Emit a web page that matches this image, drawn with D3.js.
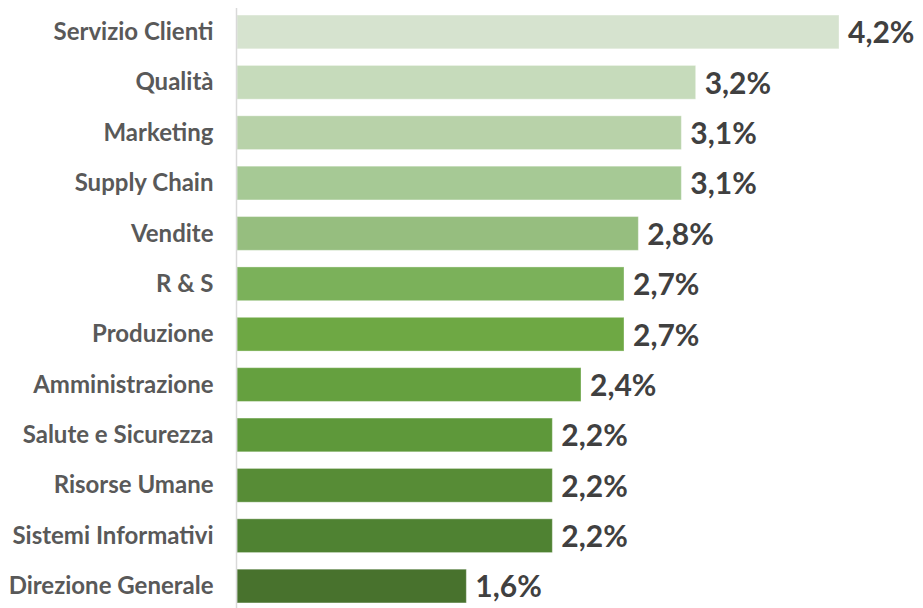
<!DOCTYPE html>
<html>
<head>
<meta charset="utf-8">
<script src="https://cdn.jsdelivr.net/npm/d3@7"></script>
<style>
  html, body { margin: 0; padding: 0; background: #ffffff; }
  svg { display: block; }
</style>
</head>
<body>
<svg id="chart" width="923" height="608"></svg>
<script>
// Departments, top to bottom
const categories = [
  "Servizio Clienti", "Qualità", "Marketing", "Supply Chain", "Vendite", "R & S",
  "Produzione", "Amministrazione", "Salute e Sicurezza", "Risorse Umane",
  "Sistemi Informativi", "Direzione Generale"
];
// Percentage per department
const values = [4.2, 3.2, 3.1, 3.1, 2.8, 2.7, 2.7, 2.4, 2.2, 2.2, 2.2, 1.6];
// Green ramp, light to dark
const colors = [
  "#d6e3cf", "#c6dbbb", "#b8d2a9", "#a6c995", "#96be7f", "#7bb15a",
  "#6ea844", "#65a03f", "#5e983a", "#578c36", "#4f8232", "#48722d"
];

const width = 923, height = 608;
const margin = { top: 7, right: 84, bottom: 0, left: 237 };

const svg = d3.select("#chart");

const x = d3.scaleLinear()
  .domain([0, 4.2])
  .range([margin.left, width - margin.right]);

const y = d3.scaleBand()
  .domain(categories)
  .range([margin.top, height + 3])
  .paddingInner(0.33)
  .paddingOuter(0.16);

const fmt = v => d3.format(".1f")(v).replace(".", ",") + "%";

// Bars
svg.append("g")
  .selectAll("rect")
  .data(categories)
  .join("rect")
  .attr("x", x(0))
  .attr("y", d => y(d))
  .attr("width", (d, i) => x(values[i]) - x(0))
  .attr("height", y.bandwidth())
  .attr("fill", (d, i) => colors[i])
  .attr("stroke", "rgba(255,255,255,0.35)")
  .attr("stroke-width", 1);

// Category axis
const yAxis = d3.axisLeft(y).tickSize(0).tickPadding(23);
const gy = svg.append("g")
  .attr("transform", `translate(${margin.left - 0.5},0)`)
  .call(yAxis);
gy.select(".domain")
  .attr("d", `M0,8V${height}`)
  .attr("stroke", "#d9d9d9")
  .attr("stroke-width", 1.5);
gy.selectAll("text")
  .attr("fill", "#595959")
  .attr("dy", "0.34em")
  .style("font-family", "Lato, 'Open Sans', sans-serif")
  .style("font-weight", "700")
  .style("font-size", "24px");

// Value labels
svg.append("g")
  .selectAll("text")
  .data(categories)
  .join("text")
  .attr("x", (d, i) => x(values[i]) + 9)
  .attr("y", d => y(d) + y.bandwidth() / 2)
  .attr("dy", "0.38em")
  .attr("fill", "#404040")
  .style("font-family", "Lato, 'Open Sans', sans-serif")
  .style("font-weight", "700")
  .style("font-size", "30px")
  .text((d, i) => fmt(values[i]));
</script>
</body>
</html>
